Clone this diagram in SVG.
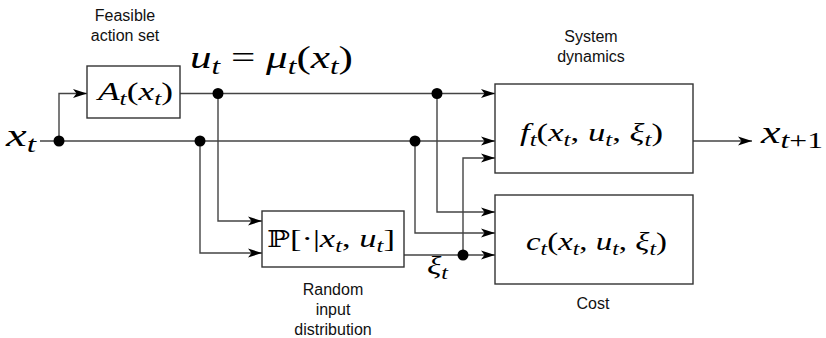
<svg xmlns="http://www.w3.org/2000/svg" width="826" height="338" viewBox="0 0 826 338">
<defs>
<style>
.box{fill:#fff;stroke:#333;stroke-width:1.4}
.ln{fill:none;stroke:#444;stroke-width:1.4}
.dot{fill:#000}
.m{font-family:"Liberation Serif","DejaVu Serif",serif;font-style:italic;fill:#000}
.r{font-style:normal}
.s{font-size:0.72em}
.lab{font-family:"Liberation Sans",Arial,sans-serif;font-size:16px;fill:#111;text-anchor:middle}
</style>
<marker id="ar" viewBox="0 0 14 10" refX="14" refY="5" markerWidth="14" markerHeight="10" markerUnits="userSpaceOnUse" orient="auto">
<path d="M0,0.5 L14,5 L0,9.5 L3.5,5 Z" fill="#000"/>
</marker>
</defs>
<g id="connectors">
<path class="ln" d="M40,141 H495" marker-end="url(#ar)"/>
<path class="ln" d="M59,141 V93.5 H87" marker-end="url(#ar)"/>
<path class="ln" d="M180,93.5 H495" marker-end="url(#ar)"/>
<path class="ln" d="M218,93.5 V221 H262" marker-end="url(#ar)"/>
<path class="ln" d="M200,141 V253 H262" marker-end="url(#ar)"/>
<path class="ln" d="M437,93.5 V212 H495" marker-end="url(#ar)"/>
<path class="ln" d="M415,141 V233 H495" marker-end="url(#ar)"/>
<path class="ln" d="M404,255 H495" marker-end="url(#ar)"/>
<path class="ln" d="M463,255 V158 H495" marker-end="url(#ar)"/>
<path class="ln" d="M693,141 H752" marker-end="url(#ar)"/>
<circle class="dot" cx="59" cy="141" r="5.5"/>
<circle class="dot" cx="200" cy="141" r="5.5"/>
<circle class="dot" cx="218" cy="93.5" r="5.5"/>
<circle class="dot" cx="437" cy="93.5" r="5.5"/>
<circle class="dot" cx="415" cy="141" r="5.5"/>
<circle class="dot" cx="463" cy="255" r="5.5"/>
</g>
<g id="xt-in">
<text class="m" x="6" y="146" font-size="31" textLength="30" lengthAdjust="spacingAndGlyphs">x<tspan class="s" dy="6">t</tspan></text>
</g>
<g id="xt1-out">
<text class="m" x="761" y="143" font-size="31" textLength="62" lengthAdjust="spacingAndGlyphs">x<tspan class="s" dy="5">t<tspan class="r">+1</tspan></tspan></text>
</g>
<g id="ut-label">
<text class="m" x="190" y="68" font-size="31" textLength="163" lengthAdjust="spacingAndGlyphs">u<tspan class="s" dy="6">t</tspan><tspan class="r" dy="-6"> = </tspan>μ<tspan class="s" dy="6">t</tspan><tspan class="r" dy="-6">(</tspan>x<tspan class="s" dy="6">t</tspan><tspan class="r" dy="-6">)</tspan></text>
</g>
<g id="A">
<rect class="box" x="87" y="66" width="93" height="52"/>
<text class="m" x="98" y="100" font-size="25" textLength="75" lengthAdjust="spacingAndGlyphs">A<tspan class="s" dy="5">t</tspan><tspan class="r" dy="-5">(</tspan>x<tspan class="s" dy="5">t</tspan><tspan class="r" dy="-5">)</tspan></text>
<text class="lab" x="125" y="21">Feasible</text>
<text class="lab" x="125" y="41">action set</text>
</g>
<g id="P">
<rect class="box" x="262" y="211" width="142" height="56"/>
<text class="m" x="267" y="247" font-size="26" textLength="128" lengthAdjust="spacingAndGlyphs"><tspan class="r" font-family="DejaVu Serif" font-size="23">ℙ</tspan><tspan class="r">[·|</tspan>x<tspan class="s" dy="5">t</tspan><tspan class="r" dy="-5">, </tspan>u<tspan class="s" dy="5">t</tspan><tspan class="r" dy="-5">]</tspan></text>
<text class="m" x="427" y="274" font-size="26" textLength="21" lengthAdjust="spacingAndGlyphs">ξ<tspan class="s" dy="5">t</tspan></text>
<text class="lab" x="333" y="295">Random</text>
<text class="lab" x="333" y="315">input</text>
<text class="lab" x="333" y="335">distribution</text>
</g>
<g id="f">
<rect class="box" x="495" y="84" width="198" height="89"/>
<text class="m" x="520" y="141" font-size="26" textLength="143" lengthAdjust="spacingAndGlyphs">f<tspan class="s" dy="5">t</tspan><tspan class="r" dy="-5">(</tspan>x<tspan class="s" dy="5">t</tspan><tspan class="r" dy="-5">, </tspan>u<tspan class="s" dy="5">t</tspan><tspan class="r" dy="-5">, </tspan>ξ<tspan class="s" dy="5">t</tspan><tspan class="r" dy="-5">)</tspan></text>
<text class="lab" x="591" y="42">System</text>
<text class="lab" x="591" y="62">dynamics</text>
</g>
<g id="c">
<rect class="box" x="495" y="195" width="198" height="89"/>
<text class="m" x="526" y="250" font-size="26" textLength="141" lengthAdjust="spacingAndGlyphs">c<tspan class="s" dy="5">t</tspan><tspan class="r" dy="-5">(</tspan>x<tspan class="s" dy="5">t</tspan><tspan class="r" dy="-5">, </tspan>u<tspan class="s" dy="5">t</tspan><tspan class="r" dy="-5">, </tspan>ξ<tspan class="s" dy="5">t</tspan><tspan class="r" dy="-5">)</tspan></text>
<text class="lab" x="593" y="309">Cost</text>
</g>
</svg>
